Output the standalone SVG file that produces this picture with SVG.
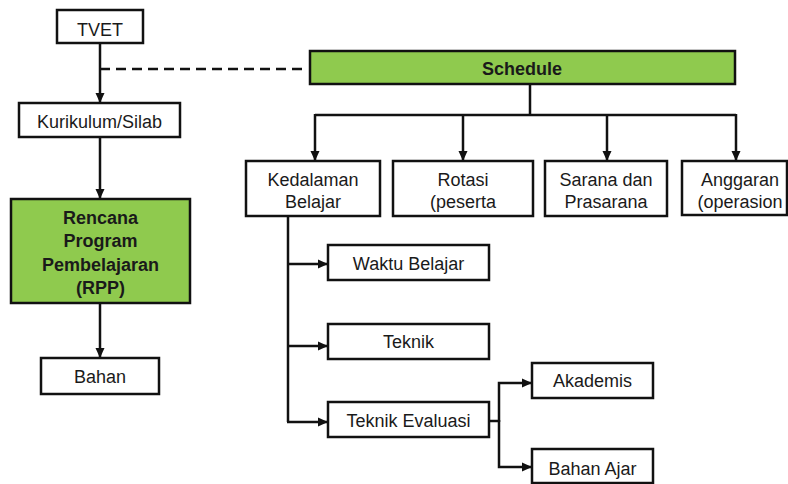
<svg xmlns="http://www.w3.org/2000/svg" width="788" height="484" viewBox="0 0 788 484">
<defs>
<marker id="ah" viewBox="0 0 10 10" refX="10" refY="5" markerWidth="10" markerHeight="10" markerUnits="userSpaceOnUse" orient="auto">
<path d="M0,0.5 L10,5 L0,9.5 z" fill="#111"/>
</marker>
<style>
.box{fill:#fff;stroke:#111;stroke-width:2.5}
.green{fill:#8fca4e;stroke:#111;stroke-width:2.5}
.t{font-family:"Liberation Sans",Arial,sans-serif;font-size:18px;fill:#1a1a1a;text-anchor:middle}
.b{font-weight:bold}
.c{fill:none;stroke:#111;stroke-width:2.5}
.a{marker-end:url(#ah)}
</style>
</defs>
<rect width="788" height="484" fill="#fff"/>
<g id="connectors">
<path class="c a" d="M100,43 V103"/>
<path class="c" d="M100,69 H304" stroke-dasharray="10,6"/>
<path class="c a" d="M100,137 V199"/>
<path class="c a" d="M100,303 V358"/>
<path class="c" d="M530,84 V115 M315,115 H736"/>
<path class="c a" d="M315,114 V161"/>
<path class="c a" d="M463,115 V161"/>
<path class="c a" d="M607,115 V161"/>
<path class="c a" d="M736,114 V161"/>
<path class="c" d="M288,216 V422"/>
<path class="c a" d="M287,264 H328"/>
<path class="c a" d="M287,346 H328"/>
<path class="c a" d="M287,422 H328"/>
<path class="c" d="M489,421 H499"/>
<path class="c a" d="M499,422 V383 H532"/>
<path class="c a" d="M499,420 V467 H532"/>
</g>
<g id="tvet"><rect class="box" x="57" y="10" width="86" height="33"/><text class="t" x="100" y="36">TVET</text></g>
<g id="kurikulum"><rect class="box" x="19" y="103" width="161" height="34"/><text class="t" x="99.5" y="128">Kurikulum/Silab</text></g>
<g id="rpp"><rect class="green" x="11" y="199" width="179" height="104"/>
<text class="t b" x="100.5" y="224">Rencana</text>
<text class="t b" x="100.5" y="247">Program</text>
<text class="t b" x="100.5" y="271">Pembelajaran</text>
<text class="t b" x="100.5" y="294">(RPP)</text></g>
<g id="bahan"><rect class="box" x="41" y="358" width="118" height="36"/><text class="t" x="100" y="383">Bahan</text></g>
<g id="schedule"><rect class="green" x="310" y="51" width="425" height="33"/><text class="t b" x="522" y="75">Schedule</text></g>
<g id="kedalaman"><rect class="box" x="246" y="161" width="134" height="55"/><text class="t" x="313" y="186">Kedalaman</text><text class="t" x="313" y="208">Belajar</text></g>
<g id="rotasi"><rect class="box" x="393" y="161" width="140" height="55"/><text class="t" x="463" y="186">Rotasi</text><text class="t" x="463" y="208">(peserta</text></g>
<g id="sarana"><rect class="box" x="545" y="161" width="122" height="55"/><text class="t" x="606" y="186">Sarana dan</text><text class="t" x="606" y="208">Prasarana</text></g>
<g id="anggaran"><rect class="box" x="682" y="161" width="105" height="54"/><text class="t" x="740" y="186">Anggaran</text><text class="t" x="740" y="208">(operasion</text></g>
<g id="waktu"><rect class="box" x="328" y="245" width="161" height="35"/><text class="t" x="408.5" y="270">Waktu Belajar</text></g>
<g id="teknik"><rect class="box" x="328" y="324" width="161" height="35"/><text class="t" x="408.5" y="348">Teknik</text></g>
<g id="evaluasi"><rect class="box" x="328" y="402" width="161" height="35"/><text class="t" x="408.5" y="427">Teknik Evaluasi</text></g>
<g id="akademis"><rect class="box" x="532" y="363" width="121" height="35"/><text class="t" x="592.5" y="387">Akademis</text></g>
<g id="bahanajar"><rect class="box" x="532" y="449" width="121" height="34"/><text class="t" x="592.5" y="475">Bahan Ajar</text></g>
</svg>
